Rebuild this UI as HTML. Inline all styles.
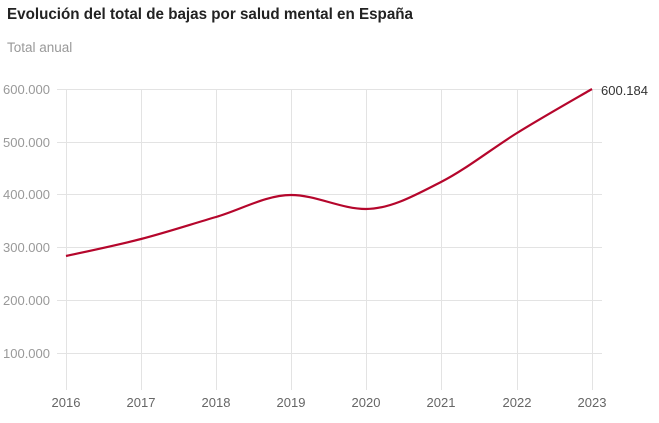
<!DOCTYPE html>
<html><head><meta charset="utf-8"><style>
body{margin:0;background:#fff;width:659px;height:418px;overflow:hidden;font-family:"Liberation Sans",sans-serif}
</style></head><body>
<svg width="659" height="418" xmlns="http://www.w3.org/2000/svg" font-family="Liberation Sans, sans-serif">
<text x="7" y="19" font-size="15.5" font-weight="bold" fill="#222" textLength="406" lengthAdjust="spacingAndGlyphs">Evolución del total de bajas por salud mental en España</text>
<text x="7" y="52" font-size="13.5" fill="#999">Total anual</text>
<g stroke="#e3e3e3" stroke-width="1">
<line x1="57" x2="602" y1="89.5" y2="89.5"/>
<line x1="57" x2="602" y1="142.5" y2="142.5"/>
<line x1="57" x2="602" y1="194.5" y2="194.5"/>
<line x1="57" x2="602" y1="247.5" y2="247.5"/>
<line x1="57" x2="602" y1="300.5" y2="300.5"/>
<line x1="57" x2="602" y1="353.5" y2="353.5"/>
<line x1="66.5" x2="66.5" y1="89" y2="390"/>
<line x1="141.5" x2="141.5" y1="89" y2="390"/>
<line x1="216.5" x2="216.5" y1="89" y2="390"/>
<line x1="291.5" x2="291.5" y1="89" y2="390"/>
<line x1="366.5" x2="366.5" y1="89" y2="390"/>
<line x1="441.5" x2="441.5" y1="89" y2="390"/>
<line x1="517.5" x2="517.5" y1="89" y2="390"/>
<line x1="592.5" x2="592.5" y1="89" y2="390"/>
</g>
<g font-size="13" fill="#999" text-anchor="end">
<text x="50" y="94">600.000</text>
<text x="50" y="147">500.000</text>
<text x="50" y="199">400.000</text>
<text x="50" y="252">300.000</text>
<text x="50" y="305">200.000</text>
<text x="50" y="358">100.000</text>
</g>
<g font-size="13" fill="#666" text-anchor="middle">
<text x="66" y="407">2016</text>
<text x="141" y="407">2017</text>
<text x="216" y="407">2018</text>
<text x="291" y="407">2019</text>
<text x="366" y="407">2020</text>
<text x="441" y="407">2021</text>
<text x="517" y="407">2022</text>
<text x="592" y="407">2023</text>
</g>
<path d="M66,256 C78.5,253.2 116,245.5 141,239 C166,232.5 191,224.3 216,217 C241,209.7 266,195 291,195 C316,195 341,209 366,209 C391,209 416,194.7 441,182 C466,169.3 492,148.5 517,133 C542,117.5 580,96 592,89" fill="none" stroke="#b5062c" stroke-width="2.2"/>
<text x="601" y="95" font-size="13" fill="#333">600.184</text>
</svg>
</body></html>
